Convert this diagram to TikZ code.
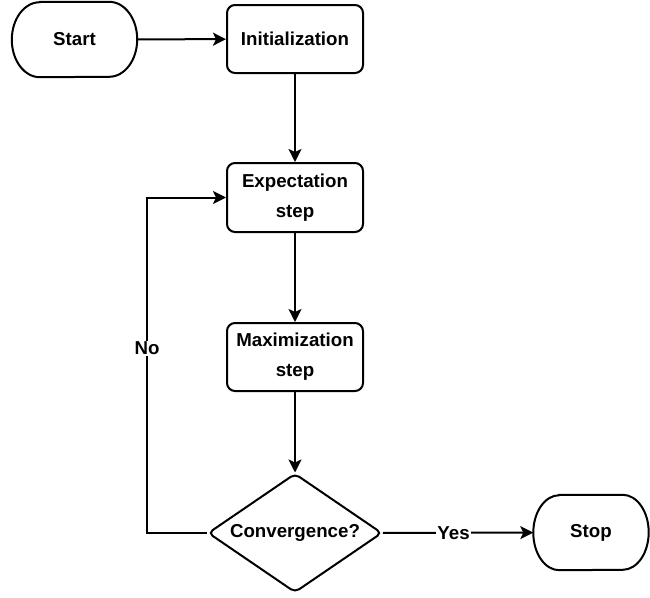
\documentclass[tikz,border=0pt]{standalone}
\usepackage{fontspec}
\setmainfont{Liberation Sans}
\usetikzlibrary{shapes.geometric,arrows.meta}
\begin{document}
\begin{tikzpicture}[x=1pt,y=-1pt,
  every node/.style={font=\fontsize{18.7}{30}\selectfont\bfseries},
  term/.style={rectangle,minimum width=125pt,minimum height=75pt,inner sep=0pt},
  proc/.style={draw,line width=2pt,rectangle,rounded corners=8pt,
    minimum width=136pt,minimum height=68pt,inner sep=0pt,align=center},
  dec/.style={draw,line width=2pt,diamond,rounded corners=5pt,aspect=1.46,
    minimum width=174pt,minimum height=119pt,inner sep=0pt},
  outline/.style={line width=2pt},
  arr/.style={line width=2pt,-{Stealth[length=13pt,width=13pt,inset=3pt]}},
  lbl/.style={fill=white,inner sep=1pt}]
\useasboundingbox (0,0) rectangle (650,597);
\node[term] (start) at (74.5,39.5) {Start};
\node[proc] (init) at (295,39) {Initialization};
\node[proc,minimum height=69pt] (exp) at (295,197.5) {Expectation\\step};
\node[proc] (max) at (295,357) {Maximization\\step};
\node[dec] (conv) at (295,533) {Convergence?};
\node[term,minimum width=115pt] (stop) at (591,532.5) {Stop};
\draw[outline] ([xshift=28pt]start.north west) -- ([xshift=-28pt]start.north east)
  arc[start angle=90,end angle=-90,x radius=28pt,y radius=37.5pt]
  -- ([xshift=28pt]start.south west)
  arc[start angle=270,end angle=90,x radius=28pt,y radius=37.5pt] -- cycle;
\draw[outline] ([xshift=26pt]stop.north west) -- ([xshift=-26pt]stop.north east)
  arc[start angle=90,end angle=-90,x radius=26pt,y radius=37.5pt]
  -- ([xshift=26pt]stop.south west)
  arc[start angle=270,end angle=90,x radius=26pt,y radius=37.5pt] -- cycle;
\coordinate (c1) at (147,533);
\coordinate (c2) at (147,197.5);
\draw[arr] (start) -- (init);
\draw[arr] (init) -- (exp);
\draw[arr] (exp) -- (max);
\draw[arr] (max) -- (conv);
\draw[arr] (conv) -- node[lbl,pos=0.47]{Yes} (stop);
\draw[arr] (conv.west) -- (c1) -- node[lbl,pos=0.55]{No} (c2) -- (exp.west);
\end{tikzpicture}
\end{document}
